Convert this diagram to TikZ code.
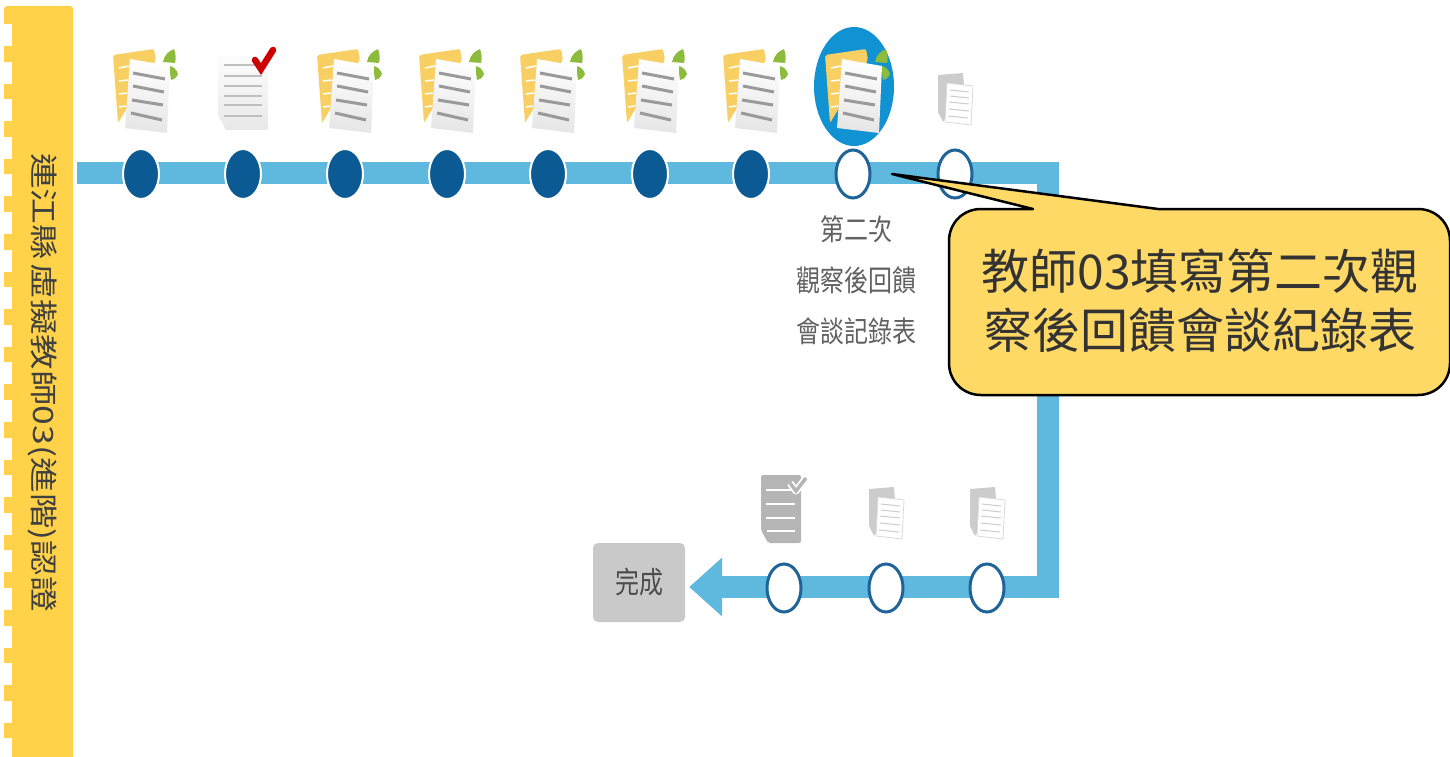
\documentclass[tikz,border=0pt]{standalone}
\usepackage{graphicx}
\usepackage{fontspec}
\setmainfont{Noto Sans CJK TC}
\newfontfamily\vertfont[Vertical=RotatedGlyphs]{Noto Sans CJK TC}
\usetikzlibrary{shapes.geometric,arrows.meta}
\definecolor{barblue}{HTML}{5FB8DE}
\definecolor{nodeblue}{HTML}{0B5A94}
\definecolor{ringblue}{HTML}{1F6499}
\definecolor{gold}{HTML}{FFD24A}
\definecolor{callout}{HTML}{FFD966}
\definecolor{activeblue}{HTML}{1192D2}
\definecolor{paperline}{HTML}{9A9A9A}
\definecolor{leaf}{HTML}{8DBB3C}
\definecolor{docyellow}{HTML}{F8CF63}
\newcommand{\tallline}[1]{\scalebox{1}[1.22]{#1}}
\tikzset{
  x=1pt,y=-1pt,
  done/.style={shape=ellipse,fill=nodeblue,draw=white,line width=2pt,minimum width=36pt,minimum height=50pt,inner sep=0pt},
  todo/.style={shape=ellipse,fill=white,draw=ringblue,line width=3pt,minimum width=34pt,minimum height=48pt,inner sep=0pt},
  track/.style={draw=barblue,line width=22pt,line join=miter},
  paperlines/.style={draw=paperline,line width=3pt},
  doc/.pic={
    \fill[docyellow,rounded corners=2pt] (-28,-119) -- (13,-125) -- (15,-114) -- (-23,-51) -- cycle;
    \draw[white,line width=1.5pt] (-22,-106) -- (-12,-108) (-22,-93) -- (-13,-94) (-22,-80) -- (-14,-81) (-22,-67) -- (-15,-68);
    \fill[leaf] (22,-112) .. controls (23,-119) and (28,-123) .. (33,-125) .. controls (35,-120) and (35,-115) .. (34,-111) -- cycle;
    \fill[leaf] (28,-108) .. controls (32,-108) and (36,-104) .. (37,-100) .. controls (35,-96) and (33,-94) .. (30,-94) -- cycle;
    \shade[top color=white,bottom color=gray!20,shading angle=-5] (-11,-115) -- (29,-108) -- (26,-41) -- (-16,-46) -- cycle;
    \draw[paperlines] (-8,-101) -- (24,-95) (-8,-88) -- (23,-82) (-9,-74) -- (22,-69) (-10,-61) -- (21,-54);
  },
  graydoc/.pic={
    \fill[gray!40] (-17,-99) -- (8,-101) -- (9,-88) -- (-12,-52) -- (-17,-62) -- cycle;
    \fill[white] (-8,-91) -- (18,-88) -- (16,-49) -- (-10,-52) -- cycle;
    \draw[gray!30,line width=.8pt] (-8,-91) -- (18,-88) -- (16,-49) -- (-10,-52) -- cycle;
    \draw[gray!40,line width=1pt] (-5,-84) -- (14,-82) (-5,-78) -- (14,-76) (-6,-72) -- (14,-70) (-6,-65) -- (14,-63) (-7,-58) -- (13,-56);
  }
}
\begin{document}
\begin{tikzpicture}
\useasboundingbox (0,0) rectangle (1450,757);
% side band
\fill[gold,rounded corners=3pt] (4,6) rectangle (73,770);
\foreach \yy in {24,61.6,...,750} \fill[white] (3,\yy) rectangle (12,\yy+22);
\node[rotate=-90,font=\vertfont\fontsize{28}{28}\selectfont,text=black!75,inner sep=0pt] (band) at (43,382.5) {\scalebox{1.27}[1]{連江縣\kern3pt 虛擬教師03(進階)認證}};
% finish box
\node[fill=gray!42,rounded corners=5pt,minimum width=92pt,minimum height=79pt,inner sep=0pt,font=\fontsize{24}{24}\selectfont,text=black!70] (finish) at (639,582.5) {\raisebox{-4pt}{\scalebox{1}[1.25]{完成}}};
% track
\coordinate (start) at (77,173);
\coordinate (cornerA) at (1047.5,173);
\coordinate (cornerB) at (1047.5,587);
\draw[track,-{Triangle[width=57pt,length=33pt]},shorten >=4pt] (start) -- (cornerA) -- (cornerB) -- (finish.east |- cornerB);
% active highlight
\fill[activeblue] (854,86.5) ellipse [x radius=40,y radius=59.5];
% step nodes
\foreach \nm/\xx in {a/141,b/243,c/345,d/447,e/548,f/650,g/751}
  \node[done] (\nm) at (\xx,174) {};
\node[todo] (h) at (853,174) {};
\node[todo] (i) at (955,174) {};
\node[todo] (j) at (987,588) {};
\node[todo] (k) at (886,588) {};
\node[todo] (l) at (784,588) {};
% icons
\foreach \nm in {a,c,d,e,f,g,h} \pic at (\nm) {doc};
\pic at (i) {graydoc};
\pic at (j) {graydoc};
\pic at (k) {graydoc};
% checked sheet
\shade[top color=white,bottom color=gray!18] (218,48) -- (268,48) -- (268,130) -- (226,130) -- (218,115) -- cycle;
\draw[gray!50,line width=1.3pt] (224,65) -- (262,65) (224,76) -- (262,76) (224,86) -- (262,86) (224,96) -- (262,96) (224,105) -- (262,105) (224,116) -- (262,116);
\draw[red!80!black,line width=6.5pt,line cap=round,line join=miter] (255,60) -- (261,69) -- (273,50);
% gray checklist
\fill[gray!58,rounded corners=2pt] (761,475) -- (801,475) -- (801,543) -- (768,543) -- (761,530) -- cycle;
\draw[white,line width=2.4pt] (766,490) -- (795,490) (766,504) -- (795,504) (766,518) -- (795,518) (767,531) -- (795,531);
\draw[white,line width=7pt,line join=round] (790,483) -- (796,491) -- (806,478);
\draw[gray!58,line width=3.5pt,line join=miter] (790,483) -- (796,491) -- (806,478);
% step label
\node[align=center,font=\fontsize{24}{51}\selectfont,text=black!62,inner sep=0pt] (lbl) at (856,280) {\tallline{第二次}\\\tallline{觀察後回饋}\\\tallline{會談記錄表}};
% callout
\coordinate (tip) at (892,174);
\draw[fill=callout,draw=black,line width=2.5pt,line join=round]
  (tip) -- (1158,209) -- (1418,209) .. controls (1436,209) and (1450,223) .. (1450,241)
  -- (1450,363) .. controls (1450,381) and (1436,395) .. (1418,395)
  -- (981,395) .. controls (963,395) and (949,381) .. (949,363)
  -- (949,241) .. controls (949,223) and (963,209) .. (981,209)
  -- (1033,209) -- cycle;
\node[align=center,font=\fontsize{48}{59}\selectfont,text=black!80,inner sep=0pt] (note) at (1200,301) {教師03填寫第二次觀\\察後回饋會談紀錄表};
\end{tikzpicture}
\end{document}
